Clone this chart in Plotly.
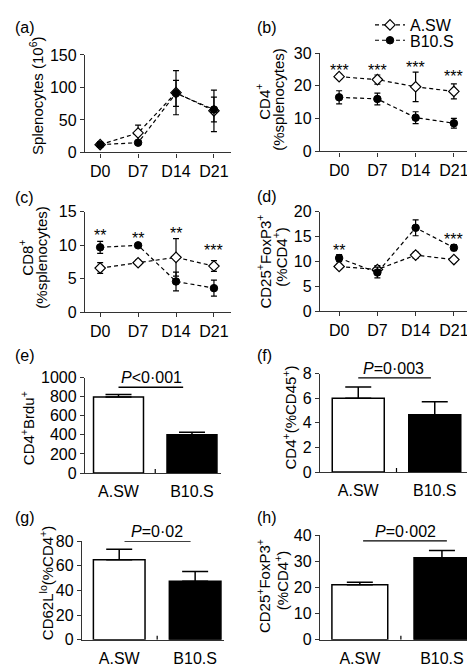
import plotly.graph_objects as go

W, H = 475, 666
FONT = "Liberation Sans, Arial, sans-serif"

# ---------------- data ----------------
days = ["D0", "D7", "D14", "D21"]
strains = ["A.SW", "B10.S"]

# (a) Splenocytes (10^6)
a_asw = [12, 30, 92, 64]
a_asw_err = [3, 12, 34, 32]
a_b10 = [12, 15, 91, 66]
a_b10_err = [4, 3, 20, 19]

# (b) CD4+ (% splenocytes)
b_asw = [22.8, 21.9, 19.7, 18.3]
b_asw_err = [0.8, 1.4, 4.5, 2.3]
b_b10 = [16.5, 16.0, 10.3, 8.6]
b_b10_err = [2.0, 1.8, 1.8, 1.5]
b_stars = ["***", "***", "***", "***"]
b_star_y = [25.9, 25.9, 26.8, 24.2]

# (c) CD8+ (% splenocytes)
c_asw = [6.6, 7.4, 8.2, 6.9]
c_asw_err = [0.8, 0.4, 2.8, 0.8]
c_b10 = [9.7, 10.0, 4.6, 3.6]
c_b10_err = [0.9, 0.2, 1.4, 1.2]
c_stars = ["**", "**", "**", "***"]
c_star_y = [12.0, 11.6, 12.3, 9.8]

# (d) CD25+FoxP3+ (% CD4+)
d_asw = [9.0, 8.4, 11.3, 10.4]
d_asw_err = [0.5, 0.8, 0.6, 0.4]
d_b10 = [10.7, 7.8, 16.8, 12.8]
d_b10_err = [0.7, 1.1, 1.6, 0.6]
d_stars = ["**", "", "***", "***"]
d_star_y = [13.1, 0, 20.3, 15.3]

# (e)-(h) bar panels
e_vals = [795, 400]
e_err = [28, 27]
f_vals = [6.0, 4.65]
f_err = [0.92, 1.07]
g_vals = [65, 47.5]
g_err = [8.5, 8.0]
h_vals = [21.1, 31.4]
h_err = [0.9, 2.8]

p_texts = ["<i>P</i>&lt;0·001", "<i>P</i>=0·003", "<i>P</i>=0·02", "<i>P</i>=0·002"]
p_line_y = [898, 7.66, 80, 37.9]
p_line_x0 = [0.0, 0.0, 0.07, 0.04]
p_line_x1 = [0.88, 0.95, 0.94, 1.06]
p_text_x = [0.45, 0.46, 0.5, 0.56]

# ---------------- layout helpers ----------------
def dom_x(a, b):
    return [a / W, b / W]

def dom_y(top, bot):
    return [1 - bot / H, 1 - top / H]

panels = {
    1: dict(x=(77, 223), y=(40, 140), yr=[0, 150], dt=50, xr=[-0.4, 3.45]),
    2: dict(x=(312, 465), y=(38, 139), yr=[0, 30], dt=10, xr=[-0.5, 3.5]),
    3: dict(x=(77, 223), y=(201, 304), yr=[0, 15], dt=5, xr=[-0.4, 3.45]),
    4: dict(x=(312, 465), y=(201, 303), yr=[0, 20], dt=5, xr=[-0.5, 3.5]),
    5: dict(x=(77, 213), y=(371, 469), yr=[0, 1000], dt=200, xr=[-0.456, 1.395]),
    6: dict(x=(312, 465), y=(367, 468), yr=[0, 8], dt=2, xr=[-0.5, 1.5]),
    7: dict(x=(74, 216), y=(539, 640), yr=[0, 80], dt=20, xr=[-0.49, 1.38]),
    8: dict(x=(312, 475), y=(533, 640), yr=[0, 40], dt=10, xr=[-0.485, 1.5]),
}

def axname(k, a):
    return a if k == 1 else f"{a}{k}"

fig = go.Figure()
layout = dict(
    width=W, height=H,
    margin=dict(l=0, r=0, t=0, b=0),
    paper_bgcolor="white", plot_bgcolor="white",
    font=dict(family=FONT, size=16, color="black"),
    annotations=[], shapes=[],
)

for k, p in panels.items():
    is_bar = k >= 5
    xa = dict(
        domain=dom_x(*p["x"]), anchor=axname(k, "y"), range=p["xr"],
        showline=True, linecolor="#333", linewidth=1.3, showgrid=False, zeroline=False,
        tickfont=dict(size=16, family=FONT, color="black"), type="category",
    )
    if is_bar:
        xa.update(ticks="", ticklabelstandoff=4)
    else:
        xa.update(ticks="outside", ticklen=4, tickwidth=1.2, tickcolor="#333")
    ya = dict(
        domain=dom_y(*p["y"]), anchor=axname(k, "x"), range=p["yr"],
        tickmode="linear", tick0=0, dtick=p["dt"],
        showline=True, linecolor="#333", linewidth=1.3, showgrid=False, zeroline=False,
        ticks="outside", ticklen=4, tickwidth=1.2, tickcolor="#333",
        tickfont=dict(size=16, family=FONT, color="black"),
    )
    layout[axname(k, "xaxis")] = xa
    layout[axname(k, "yaxis")] = ya

# ---------------- line panels ----------------
line_data = [
    (1, a_asw, a_asw_err, a_b10, a_b10_err),
    (2, b_asw, b_asw_err, b_b10, b_b10_err),
    (3, c_asw, c_asw_err, c_b10, c_b10_err),
    (4, d_asw, d_asw_err, d_b10, d_b10_err),
]
DASH = "4px,3px"
for k, asw, asw_e, b10, b10_e in line_data:
    show = (k == 2)
    fig.add_trace(go.Scatter(
        x=days, y=asw, name="A.SW", mode="lines+markers",
        line=dict(color="black", width=1.2, dash=DASH),
        marker=dict(symbol="diamond", size=8, color="white", line=dict(color="black", width=1.2)),
        error_y=dict(type="data", array=asw_e, color="black", thickness=1.2, width=3),
        xaxis=axname(k, "x"), yaxis=axname(k, "y"),
        showlegend=show, legend="legend",
    ))
    fig.add_trace(go.Scatter(
        x=days, y=b10, name="B10.S", mode="lines+markers",
        line=dict(color="black", width=1.2, dash=DASH),
        marker=dict(symbol="circle", size=7.5, color="black", line=dict(color="black", width=1)),
        error_y=dict(type="data", array=b10_e, color="black", thickness=1.2, width=3),
        xaxis=axname(k, "x"), yaxis=axname(k, "y"),
        showlegend=show, legend="legend2",
    ))

for k, stars, sy in [(2, b_stars, b_star_y), (3, c_stars, c_star_y), (4, d_stars, d_star_y)]:
    for d, s, yv in zip(days, stars, sy):
        if not s:
            continue
        layout["annotations"].append(dict(
            x=d, y=yv, xref=axname(k, "x"), yref=axname(k, "y"), text=s,
            showarrow=False, xanchor="center", yanchor="middle", yshift=-4,
            font=dict(size=16, family=FONT, color="black"),
        ))

# ---------------- bar panels ----------------
bar_data = [(5, e_vals, e_err), (6, f_vals, f_err), (7, g_vals, g_err), (8, h_vals, h_err)]
for i, (k, vals, err) in enumerate(bar_data):
    fig.add_trace(go.Bar(
        x=strains, y=vals, width=0.68,
        marker=dict(color=["white", "black"], line=dict(color="black", width=1.5)),
        error_y=dict(type="data", symmetric=False, array=err, arrayminus=[0, 0],
                     color="black", thickness=1.5, width=13),
        xaxis=axname(k, "x"), yaxis=axname(k, "y"), showlegend=False,
    ))
    # significance line
    layout["shapes"].append(dict(
        type="line", xref=axname(k, "x"), yref=axname(k, "y"),
        x0=p_line_x0[i], x1=p_line_x1[i], y0=p_line_y[i], y1=p_line_y[i],
        line=dict(color="black", width=1.3),
    ))
    layout["annotations"].append(dict(
        x=p_text_x[i], y=p_line_y[i], xref=axname(k, "x"), yref=axname(k, "y"),
        text=p_texts[i], showarrow=False, xanchor="center", yanchor="bottom", yshift=-1,
        font=dict(size=16, family=FONT, color="black"),
    ))
    # small tick between categories
    layout["shapes"].append(dict(
        type="line", xref=axname(k, "x"), yref=axname(k, "y"),
        x0=0.5, x1=0.5, ysizemode="pixel", yanchor=0, y0=0, y1=4,
        line=dict(color="black", width=1.2),
    ))

# ---------------- texts: panel letters and axis titles ----------------
def paper_text(text, xpx, ypx, size=16, angle=0, xanchor="center"):
    layout["annotations"].append(dict(
        x=xpx / W, y=1 - ypx / H, xref="paper", yref="paper", text=text,
        showarrow=False, xanchor=xanchor, yanchor="middle", textangle=angle,
        font=dict(size=size, family=FONT, color="black"),
    ))

letters = ["(a)", "(b)", "(c)", "(d)", "(e)", "(f)", "(g)", "(h)"]
letter_pos = [(5, 12), (247, 12), (5, 186), (247, 185), (5, 348), (247, 348), (5, 515), (247, 515)]
for t, (xp, yp) in zip(letters, letter_pos):
    paper_text(t, xp, yp, size=16, xanchor="left")

TS = 15
ytitles = [
    ("Splenocytes (10<sup>6</sup>)", 29, 82),
    ("CD4<sup>+</sup>", 255, 88),
    ("(%splenocytes)", 271, 86),
    ("CD8<sup>+</sup>", 18, 248),
    ("(%splenocytes)", 34, 248),
    ("CD25<sup>+</sup>FoxP3<sup>+</sup>", 256, 252),
    ("(%CD4<sup>+</sup>)", 272, 248),
    ("CD4<sup>+</sup>Brdu<sup>+</sup>", 19, 423),
    ("CD4<sup>+</sup>(%CD45<sup>+</sup>)", 281, 412),
    ("CD62L<sup>lo</sup>(%CD4<sup>+</sup>)", 38, 582),
    ("CD25<sup>+</sup>FoxP3<sup>+</sup>", 255, 585),
    ("(%CD4<sup>+</sup>)", 273, 580),
]
for t, xp, yp in ytitles:
    paper_text(t, xp, yp, size=TS, angle=-90)

# legends (two, to control their vertical spacing)
leg_common = dict(font=dict(size=16, family=FONT, color="black"), bgcolor="rgba(0,0,0,0)",
                  borderwidth=0, xanchor="left", yanchor="middle", itemwidth=30)
layout["legend"] = dict(x=362 / W, y=1 - 9 / H, **leg_common)
layout["legend2"] = dict(x=362 / W, y=1 - 25 / H, **leg_common)

fig.update_layout(**layout)
fig.write_html("out.html")
